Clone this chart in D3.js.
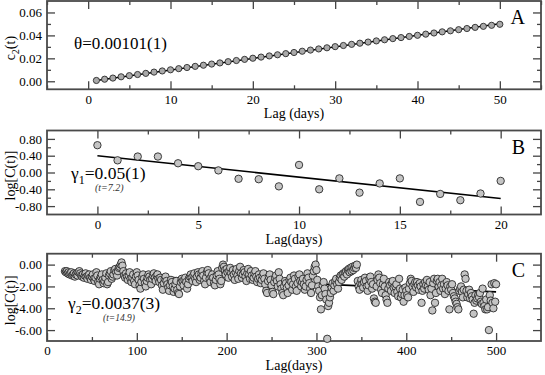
<!DOCTYPE html>
<html>
<head>
<meta charset="utf-8">
<script src="https://cdn.jsdelivr.net/npm/d3@7"></script>
<style>
  body { margin: 0; background: #fff; }
  svg { display: block; }
  svg text { font-family: 'Liberation Serif', 'Times New Roman', Times, serif !important; }
</style>
</head>
<body>
<div id="container"></div>
<script>
// ---- panel A: c2(t) vs lag ----
const lagA = d3.range(1, 51);
const c2A = [
  0.0007, 0.0018, 0.0028, 0.0039, 0.0049, 0.0059, 0.0069, 0.0080, 0.0090, 0.0100,
  0.0110, 0.0120, 0.0130, 0.0140, 0.0150, 0.0160, 0.0171, 0.0181, 0.0191, 0.0201,
  0.0211, 0.0221, 0.0231, 0.0241, 0.0251, 0.0262, 0.0272, 0.0282, 0.0292, 0.0302,
  0.0312, 0.0322, 0.0332, 0.0342, 0.0352, 0.0362, 0.0372, 0.0381, 0.0391, 0.0401,
  0.0411, 0.0421, 0.0431, 0.0440, 0.0450, 0.0460, 0.0470, 0.0479, 0.0488, 0.0497
];
const fitA = [[1, 0.0007], [50, 0.0502]];

// ---- panel B: log C(t), short lags ----
const lagB = d3.range(0, 21);
const logCB = [0.65, 0.29, 0.38, 0.38, 0.22, 0.15, 0.05, -0.15, -0.16, -0.33, 0.18,
  -0.40, -0.14, -0.48, -0.26, -0.14, -0.70, -0.51, -0.66, -0.50, -0.20];
const fitB = [[0, 0.40], [20, -0.62]];

// ---- panel C: log C(t), long lags ----
const lagC = d3.range(20, 501);
const logCC = [
  -0.6,-0.7,-0.6,-0.8,-0.7,-0.9,-0.8,-0.7,-1.0,-0.9,-0.8,-1.1,-0.9,-0.8,-1.0,-0.7,-0.6,-0.8,-1.0,-1.1,
  -0.9,-1.2,-1.0,-0.8,-1.1,-1.3,-1.0,-0.9,-1.2,-1.4,-1.1,-0.9,-1.3,-1.5,-1.2,-0.7,-1.0,-1.6,-1.8,-1.3,
  -1.1,-0.9,-1.4,-1.7,-1.5,-1.2,-0.8,-1.8,-1.6,-1.0,-0.8,-0.6,-1.3,-1.1,-0.9,-0.5,-0.4,-0.7,-1.0,-0.6,
  -0.3,-0.2,0.0,0.2,-0.1,-0.6,-1.0,-1.2,-0.8,-1.1,-1.4,-1.0,-0.7,-1.3,-1.6,-1.2,-0.9,-1.5,-1.8,-1.1,
  -0.7,-1.0,-1.4,-1.9,-2.2,-1.6,-1.1,-0.9,-1.3,-1.7,-2.0,-1.5,-1.2,-0.9,-1.1,-1.4,-1.8,-1.3,-1.0,-0.8,
  -1.2,-1.5,-1.0,-0.9,-1.3,-1.6,-1.2,-1.4,-1.9,-2.3,-1.7,-1.3,-1.1,-1.5,-1.8,-2.1,-2.4,-1.9,-1.4,-1.6,
  -2.0,-2.5,-2.2,-1.8,-1.5,-2.3,-2.6,-2.7,-2.0,-1.6,-1.3,-1.5,-1.9,-1.4,-1.2,-1.6,-2.2,-1.8,-1.3,-1.1,
  -0.9,-1.2,-1.5,-1.0,-0.8,-1.3,-1.6,-1.1,-0.7,-0.9,-1.4,-1.2,-0.8,-0.6,-1.0,-1.5,-1.8,-1.2,-0.7,-0.5,
  -0.8,-1.3,-1.6,-1.1,-0.9,-1.2,-1.7,-1.9,-1.4,-1.0,-0.6,-0.9,-1.3,-1.8,-1.5,-0.3,0.0,-0.2,-0.5,-0.9,
  -0.4,-0.7,-1.2,-0.6,-0.3,-0.8,-1.1,-0.5,-0.9,-1.4,-0.7,-0.4,-1.0,-1.3,-0.6,-0.2,-0.8,-1.2,-0.9,-0.5,
  -0.7,-1.1,-1.5,-0.8,-0.4,-0.9,-1.3,-0.6,-1.0,-1.4,-1.2,-0.8,-0.6,-1.1,-1.6,-1.3,-0.9,-1.2,-1.7,-1.4,
  -1.0,-0.8,-1.3,-1.8,-2.4,-2.6,-1.5,-1.1,-0.9,-1.4,-1.9,-2.5,-2.7,-1.6,-1.2,-1.0,-1.5,-2.0,-0.7,-1.3,
  -1.8,-2.2,-2.6,-2.8,-2.0,-1.5,-1.7,-2.1,-2.6,-1.9,-1.4,-1.2,-1.6,-2.3,-1.8,-1.0,-1.3,-2.0,-2.4,-1.7,
  -1.1,-0.9,-1.5,-2.0,-1.6,-1.3,-1.8,-2.3,-2.0,-1.4,-0.8,-1.2,-1.7,-2.2,-2.6,-1.9,-1.0,-0.6,-0.2,0.0,
  -0.5,-1.4,-2.0,-2.4,-3.0,-4.1,-2.8,-1.9,-1.6,-2.2,-2.7,-3.2,-6.8,-3.8,-3.5,-3.0,-2.6,-2.1,-1.7,-2.4,
  -1.9,-1.5,-1.3,-1.8,-2.2,-1.6,-1.2,-1.0,-1.4,-0.9,-0.8,-1.1,-0.7,-0.6,-0.9,-0.5,-0.4,-0.7,-0.3,-0.6,
  -0.2,-0.5,-0.3,-0.1,-0.3,0.0,-1.5,-2.0,-2.3,-1.7,-1.4,-1.8,-2.1,-1.6,-1.2,-1.5,-2.0,-2.4,-1.9,-1.3,
  -1.1,-1.6,-2.2,-1.8,-3.1,-3.4,-3.5,-2.0,-1.4,-0.9,-1.2,-1.7,-2.3,-2.6,-1.8,-1.3,-2.0,-2.8,-3.2,-3.5,
  -2.2,-1.6,-1.9,-2.4,-1.7,-1.5,-2.1,-2.6,-2.0,-1.8,-2.5,-2.9,-1.3,-2.2,-3.0,-2.7,-2.3,-3.4,-2.8,-2.1,
  -2.4,-2.8,-3.0,-2.2,-1.7,-1.3,-1.5,-2.0,-2.5,-1.8,-1.6,-2.1,-1.6,-1.9,-2.3,-1.7,-2.0,-3.5,-2.4,-1.8,
  -2.2,-1.6,-1.9,-1.4,-2.0,-2.3,-1.6,-2.8,-2.2,-4.2,-1.7,-1.3,-3.5,-2.6,-1.5,-1.3,-2.0,-1.6,-2.4,-1.9,
  -1.3,-2.2,-1.8,-2.7,-2.2,-1.6,-1.9,-2.4,-4.1,-2.0,-2.3,-1.8,-2.6,-2.9,-3.1,-3.4,-3.6,-3.9,-4.1,-2.4,
  -2.2,-2.0,-2.5,-3.0,-2.3,-0.9,-1.3,-2.4,-3.0,-2.7,-2.3,-3.1,-2.6,-2.9,-3.2,-4.5,-3.5,-2.8,-3.3,-3.1,
  -2.8,-3.0,-2.6,-3.4,-3.6,-2.2,-3.5,-3.8,-4.1,-3.2,-4.1,-3.9,-6.0,-2.8,-3.3,-1.8,-3.5,-4.0,-1.7,-3.4,
  -1.8
];
const fitC = [[20, -0.75], [500, -2.5]];

// tick values
const xMajA = [0, 10, 20, 30, 40, 50], xMinA = [-5, 5, 15, 25, 35, 45, 55];
const yMajA = [0, 0.02, 0.04, 0.06], yMinA = [0.01, 0.03, 0.05];
const xMajB = [0, 5, 10, 15, 20], xMinB = [2.5, 7.5, 12.5, 17.5];
const yMajB = [-0.8, -0.4, 0, 0.4, 0.8], yMinB = [-0.6, -0.2, 0.2, 0.6];
const xMajC = [0, 100, 200, 300, 400, 500], xMinC = [50, 150, 250, 350, 450];
const yMajC = [-6, -4, -2, 0], yMinC = [-5, -3, -1];

const W = 545, H = 375;
const L = 47, R = 541;
const SERIF = "'Liberation Serif', 'Times New Roman', Times, serif";
const svg = d3.select('#container').append('svg').attr('width', W).attr('height', H)
  .attr('font-family', SERIF);
const fmt = d3.formatLocale({ decimal: '.', thousands: ',', grouping: [3], currency: ['$', ''], minus: '-' }).format('.2f');

function panel(o) {
  const x = d3.scaleLinear().domain(o.xDomain).range([L, R]);
  const y = d3.scaleLinear().domain(o.yDomain).range([o.bottom, o.top]);
  const g = svg.append('g');

  const axes = [
    [d3.axisBottom(x), `translate(0,${o.bottom})`, o.xMaj, o.xMin, true],
    [d3.axisTop(x), `translate(0,${o.top})`, o.xMaj, o.xMin, false],
    [d3.axisLeft(y), `translate(${L},0)`, o.yMaj, o.yMin, true],
    [d3.axisRight(y), `translate(${R},0)`, o.yMaj, o.yMin, false]
  ];
  axes.forEach(([ax, tr, maj, min, labelled], i) => {
    const isX = i < 2;
    const major = g.append('g').attr('transform', tr)
      .call(ax.tickValues(maj).tickSize(-8).tickPadding(5)
        .tickFormat(labelled ? (isX ? d3.format('d') : fmt) : ''));
    major.attr('font-family', SERIF).attr('font-size', 13).select('.domain').remove();
    const minor = g.append('g').attr('transform', tr)
      .call(ax.tickValues(min).tickSize(-4).tickFormat(''));
    minor.select('.domain').remove();
  });
  g.selectAll('.tick line').attr('stroke', '#444').attr('stroke-width', 1.3);
  g.selectAll('.tick text').attr('fill', '#000');

  g.append('rect').attr('x', L).attr('y', o.top).attr('width', R - L).attr('height', o.bottom - o.top)
    .attr('fill', 'none').attr('stroke', '#4a4a4a').attr('stroke-width', 1.8);

  g.append('path').datum(o.fit)
    .attr('d', d3.line().x(d => x(d[0])).y(d => y(d[1])))
    .attr('stroke', '#000').attr('stroke-width', 1.6).attr('fill', 'none');

  g.append('g').selectAll('circle').data(o.xs)
    .join('circle')
    .attr('cx', d => x(d)).attr('cy', (d, i) => y(o.ys[i]))
    .attr('r', o.r).attr('fill', o.fill).attr('stroke', '#2a2a2a').attr('stroke-width', 0.9);

  // axis titles
  g.append('text').attr('x', (L + R) / 2).attr('y', o.bottom + 29)
    .attr('text-anchor', 'middle').attr('font-size', 14).text(o.xTitle);
  const yt = g.append('text').attr('transform', `translate(15,${(o.top + o.bottom) / 2 + 3}) rotate(-90)`)
    .attr('text-anchor', 'middle').attr('font-size', 14);
  o.yTitle(yt);

  // panel letter
  g.append('text').attr('x', R - 16).attr('y', o.top + 23).attr('text-anchor', 'end')
    .attr('font-size', 20).text(o.letter);
  return g;
}

const gA = panel({
  xDomain: [-5, 55], yDomain: [-0.007, 0.07], top: 1, bottom: 89.3,
  xMaj: xMajA, xMin: xMinA, yMaj: yMajA, yMin: yMinA,
  xs: lagA, ys: c2A, fit: fitA, r: 3.1, fill: '#a9a9a9',
  xTitle: 'Lag (days)', letter: 'A',
  yTitle: t => { t.append('tspan').text('c'); t.append('tspan').attr('font-size', 10).attr('dy', 4).text('2'); t.append('tspan').attr('dy', -4).text('(t)'); }
});
gA.append('text').attr('x', 74).attr('y', 48.5).attr('font-size', 17).text('θ=0.00101(1)');

const gB = panel({
  xDomain: [-2.5, 22], yDomain: [-1, 1], top: 130.5, bottom: 214.5,
  xMaj: xMajB, xMin: xMinB, yMaj: yMajB, yMin: yMinB,
  xs: lagB, ys: logCB, fit: fitB, r: 3.7, fill: '#c4c4c4',
  xTitle: 'Lag(days)', letter: 'B',
  yTitle: t => t.text('log[C(t)]')
});
const tB = gB.append('text').attr('x', 71).attr('y', 179).attr('font-size', 17.5);
tB.append('tspan').text('γ');
tB.append('tspan').attr('font-size', 12).attr('dy', 5).text('1');
tB.append('tspan').attr('dy', -5).text('=0.05(1)');
gB.append('text').attr('x', 95).attr('y', 191).attr('font-size', 10).attr('font-style', 'italic')
  .attr('fill', '#333').text('(t=7.2)');

const gC = panel({
  xDomain: [0, 550], yDomain: [-7, 1], top: 253.7, bottom: 341,
  xMaj: xMajC, xMin: xMinC, yMaj: yMajC, yMin: yMinC,
  xs: lagC, ys: logCC, fit: fitC, r: 3.7, fill: '#c4c4c4',
  xTitle: 'Lag(days)', letter: 'C',
  yTitle: t => t.text('log[C(t)]')
});
const tC = gC.append('text').attr('x', 68).attr('y', 309).attr('font-size', 17.5);
tC.append('tspan').text('γ');
tC.append('tspan').attr('font-size', 12).attr('dy', 5).text('2');
tC.append('tspan').attr('dy', -5).text('=0.0037(3)');
gC.append('text').attr('x', 103).attr('y', 321).attr('font-size', 9.5).attr('font-style', 'italic')
  .attr('fill', '#333').text('(t=14.9)');
</script>
</body>
</html>
